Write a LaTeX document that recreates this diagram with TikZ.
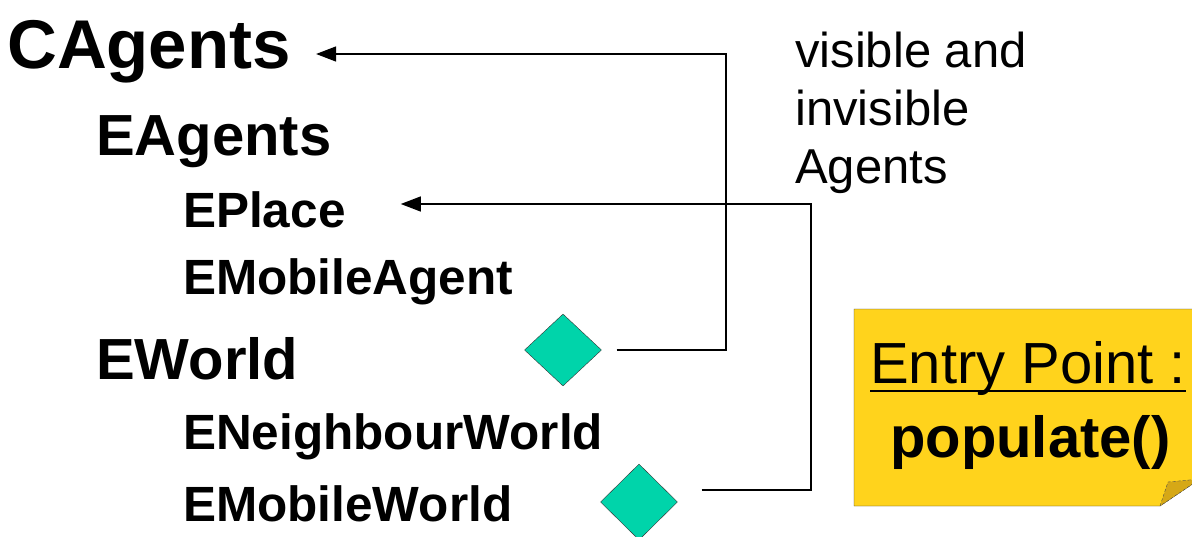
\documentclass[tikz,border=0pt]{standalone}
\usepackage{fontspec}
\setmainfont{Liberation Sans}
\usetikzlibrary{arrows.meta,positioning,shapes.geometric}
\definecolor{gemcol}{RGB}{0,212,170}
\definecolor{notecol}{RGB}{255,211,28}
\definecolor{foldcol}{RGB}{214,168,22}

\begin{document}
\begin{tikzpicture}[
x=1pt, y=-1pt,
top/.style={font=\bfseries\fontsize{69}{72}\selectfont, anchor=base west, inner sep=0},
mid/.style={font=\bfseries\fontsize{58}{62}\selectfont, anchor=base west, inner sep=0},
low/.style={font=\bfseries\fontsize{49.5}{53}\selectfont, anchor=base west, inner sep=0},
gem/.style={diamond, draw=black!80, thin, fill=gemcol, inner sep=0, minimum width=77pt, minimum height=72pt},
link/.style={-{Triangle[length=20pt, width=15pt]}, line width=1.3pt}
]
\useasboundingbox (0,0) rectangle (1192,536);
\clip (0,0) rectangle (1192,536);

\node[top] (cag) at (7,68) {CAgents};
\node[mid] (eag) at (96,155) {EAgents};
\node[low] (epl) at (183,227) {EPlace};
\node[low] (emo) at (183,294) {EMobileAgent};
\node[mid] (ewo) at (96,379) {EWorld};
\node[low] (ene) at (183,449) {ENeighbourWorld};
\node[low] (emw) at (183,521) {EMobileWorld};

\node[font=\fontsize{49}{58}\selectfont, align=left, anchor=base west, inner sep=0] (vis) at (795,183) {visible and\\invisible\\Agents};

\node[gem] (ga) at (563,350) {};
\node[gem, minimum height=76pt] (gb) at (639,502) {};

% note with folded corner
\fill[notecol, draw=black!80] (854,309) -- (1200,309) -- (1200,479) -- (1160,506) -- (854,506) -- cycle;
\fill[foldcol, draw=black!70, densely dashed] (1160,506) -- (1168,482) -- (1200,479) -- cycle;
\node[font=\fontsize{58}{62}\selectfont, anchor=base west, inner sep=0] (ent) at (870,383) {Entry Point :};
\draw[line width=2.5pt] ([yshift=-8pt]ent.base west) -- ([yshift=-8pt]ent.base east);
\node[font=\bfseries\fontsize{58}{62}\selectfont, anchor=base west, inner sep=0] (pop) at (890,457) {populate()};

\coordinate (ja) at (726,54);
\coordinate (jb) at (811,204);
\draw[link] ([xshift=15pt]ga.east) -| (ja) -- ([xshift=25pt]cag.east |- ja);
\draw[link] ([xshift=24pt, yshift=12pt]gb.east) -| (jb) -- ([xshift=55pt]epl.east |- jb);
\end{tikzpicture}
\end{document}
